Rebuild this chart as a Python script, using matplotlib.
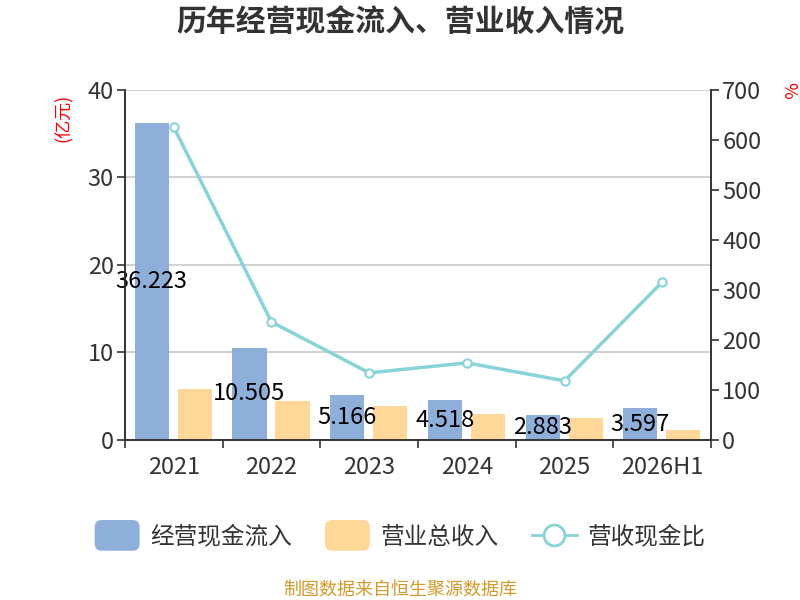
import matplotlib
matplotlib.use("Agg")
import matplotlib.pyplot as plt
import numpy as np
from matplotlib.patches import FancyBboxPatch, Patch
from matplotlib.lines import Line2D
from matplotlib.legend_handler import HandlerPatch

plt.rcParams['font.family'] = ['Noto Sans CJK SC', 'DejaVu Sans']

categories = ["2021", "2022", "2023", "2024", "2025", "2026H1"]
cash_inflow = [36.223, 10.505, 5.166, 4.518, 2.883, 3.597]
revenue = [5.83, 4.46, 3.90, 2.97, 2.50, 1.15]
ratio = [626, 236, 134, 154, 118, 316]

blue = "#8FAFDB"
orange = "#FFD898"
teal = "#86D4D8"
dark = "#333333"

fig = plt.figure(figsize=(8, 6), dpi=100)
ax = fig.add_axes([0.156, 0.267, 0.733, 0.583])
ax2 = ax.twinx()

x = np.arange(len(categories))
w = 0.35
ax.bar(x - 0.225, cash_inflow, w, color=blue, zorder=2)
ax.bar(x + 0.215, revenue, w, color=orange, zorder=2)
for xi, v in zip(x, cash_inflow):
    ax.text(xi - 0.225, v / 2, f"{v:.3f}", ha="center", va="center",
            fontsize=17, color="black", zorder=5)

ax2.plot(x, ratio, color=teal, lw=2.5, marker="o", ms=6,
         markerfacecolor="white", markeredgecolor=teal, markeredgewidth=1.5, zorder=3)

ax.set_xlim(-0.5, len(categories) - 0.5)
ax.set_ylim(0, 40)
ax.set_yticks([0, 10, 20, 30, 40])
ax2.set_ylim(0, 700)
ax2.set_yticks(range(0, 701, 100))
ax.set_xticks(x)
ax.set_xticklabels(categories)
ax.set_xticks(np.arange(-0.5, len(categories), 1), minor=True)
ax.tick_params(axis="x", which="major", length=0, pad=12, labelsize=17, labelcolor=dark)
ax.tick_params(axis="x", which="minor", length=6, width=1.2, color=dark)
ax.tick_params(axis="y", length=6, width=1.2, color=dark, labelsize=17, labelcolor=dark, pad=2)
ax2.tick_params(axis="y", length=6, width=1.2, color=dark, labelsize=17, labelcolor=dark, pad=2)
ax.grid(axis="y", color="#c8c8c8", lw=1.2, zorder=0)
ax.set_axisbelow(True)
for a in (ax, ax2):
    a.spines["top"].set_visible(False)
    for s in ("left", "right", "bottom"):
        a.spines[s].set_color(dark)
        a.spines[s].set_linewidth(1.2)

fig.text(0.078, 0.803, "(亿元)", color="red", rotation=90, fontsize=13,
         ha="center", va="center")
fig.text(0.985, 0.85, "%", color="red", rotation=-90, fontsize=13,
         ha="center", va="center")

fig.text(0.5, 0.962, "历年经营现金流入、营业收入情况", ha="center", va="center",
         fontsize=21.5, fontweight="bold", color=dark)


class RoundHandler(HandlerPatch):
    def create_artists(self, legend, orig_handle, xdescent, ydescent, width,
                       height, fontsize, trans):
        p = FancyBboxPatch((-xdescent, -ydescent - 4), width, height + 8,
                           boxstyle="round,pad=0,rounding_size=5",
                           facecolor=orig_handle.get_facecolor(), edgecolor="none",
                           transform=trans)
        return [p]


handles = [Patch(facecolor=blue), Patch(facecolor=orange),
           Line2D([], [], color=teal, lw=2, marker="o", ms=15,
                  markerfacecolor="white", markeredgecolor=teal, markeredgewidth=2)]
labels = ["经营现金流入", "营业总收入", "营收现金比"]
fig.legend(handles, labels, loc="center", bbox_to_anchor=(0.5, 0.105), ncol=3,
           frameon=False, fontsize=17, handlelength=1.9, handleheight=0.9,
           handletextpad=0.45, columnspacing=1.4, labelcolor=dark,
           handler_map={Patch: RoundHandler()})

fig.text(0.5, 0.017, "制图数据来自恒生聚源数据库", ha="center", va="center",
         fontsize=13, color="#D4992A")

fig.savefig("out.png", dpi=100)
